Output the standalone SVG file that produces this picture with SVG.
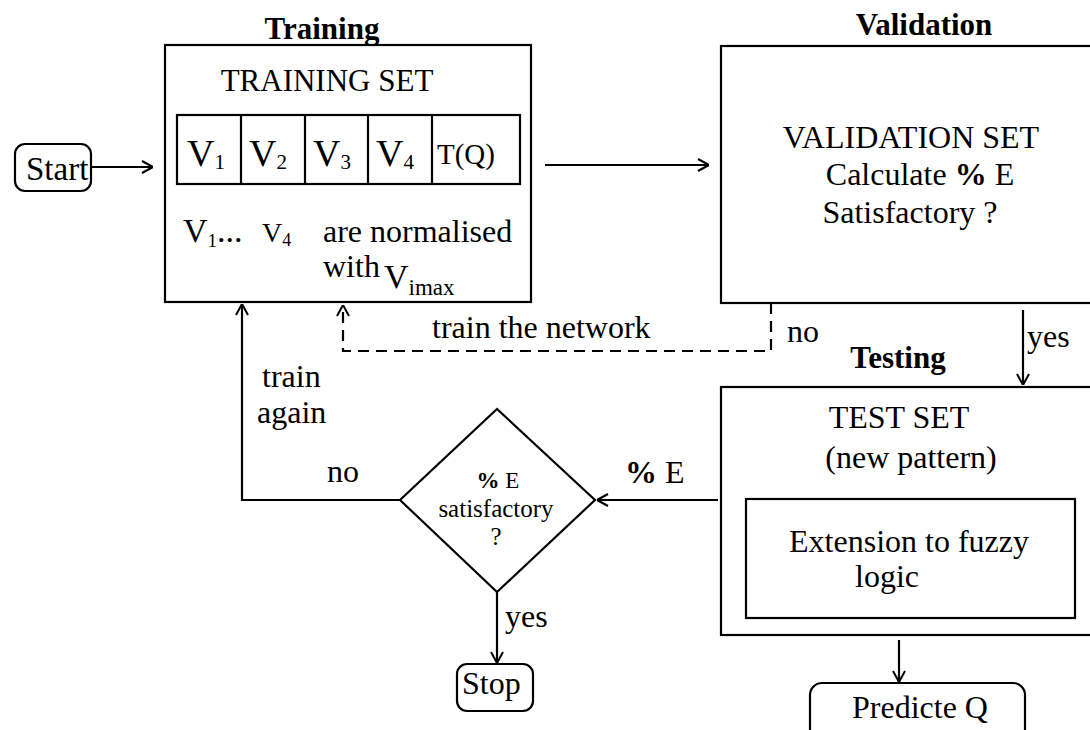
<svg xmlns="http://www.w3.org/2000/svg" width="1090" height="730" viewBox="0 0 1090 730">
  <style>
    text { font-family: "Liberation Serif", "Times New Roman", serif; fill: #000; }
    .t { font-size: 32px; }
    .h { font-size: 31px; font-weight: bold; }
    .c { text-anchor: middle; }
    .box { fill: none; stroke: #000; stroke-width: 2.2; }
    .ln { fill: none; stroke: #000; stroke-width: 2.2; }
    .dash { stroke-dasharray: 11 7; }
    .pc { font-weight: bold; }
    .v { font-size: 38px; }
    .sub { font-size: 21px; }
  </style>
  <defs>
    <marker id="arr" viewBox="0 0 12 14" refX="12" refY="7" markerWidth="12" markerHeight="14" markerUnits="userSpaceOnUse" orient="auto">
      <path d="M1,1 L12,7 L1,13" fill="none" stroke="#000" stroke-width="2"/>
    </marker>
  </defs>
  <rect width="1090" height="730" fill="#fff"/>

  <!-- section titles -->
  <text class="h c" x="322" y="39">Training</text>
  <text class="h c" x="924" y="35">Validation</text>
  <text class="h c" x="898" y="368">Testing</text>

  <g id="start">
    <rect class="box" x="15" y="144" width="76" height="47" rx="10"/>
    <text class="t" x="26" y="180" style="font-size:33px">Start</text>
  </g>

  <g id="training">
    <rect class="box" x="165" y="45" width="366" height="257"/>
    <text class="t c" x="327" y="91" style="font-size:31px">TRAINING SET</text>
    <!-- row of input/target cells -->
    <rect class="box" x="177" y="115" width="343" height="69"/>
    <path class="ln" d="M241,115 V184 M305,115 V184 M368,115 V184 M432,115 V184"/>
    <text class="v" x="187" y="166">V<tspan class="sub" dy="3">1</tspan></text>
    <text class="v" x="249" y="166">V<tspan class="sub" dy="3">2</tspan></text>
    <text class="v" x="313" y="166">V<tspan class="sub" dy="3">3</tspan></text>
    <text class="v" x="376" y="166">V<tspan class="sub" dy="3">4</tspan></text>
    <text x="437" y="164" style="font-size:29px">T(Q)</text>
    <text x="183" y="242" style="font-size:34px">V<tspan dy="5" style="font-size:19px">1</tspan><tspan dy="-5">...</tspan></text>
    <text x="262" y="242" style="font-size:28px">V<tspan dy="4" style="font-size:18px">4</tspan></text>
    <text class="t" x="323" y="242">are normalised</text>
    <text class="t" x="323" y="277">with</text>
    <text x="384" y="288" style="font-size:34px">V<tspan dy="7" style="font-size:23px">imax</tspan></text>
  </g>

  <g id="validation">
    <rect class="box" x="721" y="46" width="380" height="257"/>
    <text class="t c" x="911" y="148">VALIDATION SET</text>
    <text class="t c" x="920" y="185">Calculate <tspan class="pc">%</tspan> E</text>
    <text class="t c" x="910" y="223">Satisfactory ?</text>
  </g>

  <g id="testing">
    <rect class="box" x="721" y="387" width="380" height="248"/>
    <text class="t c" x="899" y="428">TEST SET</text>
    <text class="t c" x="911" y="468">(new pattern)</text>
    <rect class="box" x="746" y="499" width="329" height="119"/>
    <text class="t c" x="909" y="552">Extension to fuzzy</text>
    <text class="t c" x="887" y="587">logic</text>
  </g>

  <g id="decision">
    <path class="box" d="M497,409 L595,500 L497,592 L400,500 Z"/>
    <text class="c" x="498" y="488" style="font-size:23px"><tspan class="pc">%</tspan> E</text>
    <text class="c" x="496" y="517" style="font-size:25px">satisfactory</text>
    <text class="c" x="496" y="545" style="font-size:25px">?</text>
  </g>

  <g id="stop">
    <rect class="box" x="457" y="664" width="76" height="47" rx="10"/>
    <text class="t" x="462" y="694">Stop</text>
  </g>

  <g id="predict">
    <rect class="box" x="810" y="683" width="215" height="60" rx="12"/>
    <text class="t" x="852" y="718">Predicte Q</text>
  </g>

  <g id="connectors">
    <path class="ln" d="M91,167 H153" marker-end="url(#arr)"/>
    <path class="ln" d="M545,165 H709" marker-end="url(#arr)"/>
    <path class="ln dash" d="M771,303 V351 H343 V305" marker-end="url(#arr)"/>
    <path class="ln" d="M1023,310 V385" marker-end="url(#arr)"/>
    <path class="ln" d="M718,500 H597" marker-end="url(#arr)"/>
    <path class="ln" d="M400,500 H242 V304" marker-end="url(#arr)"/>
    <path class="ln" d="M497,592 V663" marker-end="url(#arr)"/>
    <path class="ln" d="M899,640 V682" marker-end="url(#arr)"/>
  </g>

  <g id="labels">
    <text class="t" x="432" y="338">train the network</text>
    <text class="t" x="787" y="342">no</text>
    <text class="t" x="1027" y="347">yes</text>
    <text class="t" x="625" y="483"><tspan class="pc">%</tspan> E</text>
    <text class="t" x="327" y="482">no</text>
    <text class="t" x="262" y="387">train</text>
    <text class="t" x="257" y="423">again</text>
    <text class="t" x="505" y="627">yes</text>
  </g>
</svg>
